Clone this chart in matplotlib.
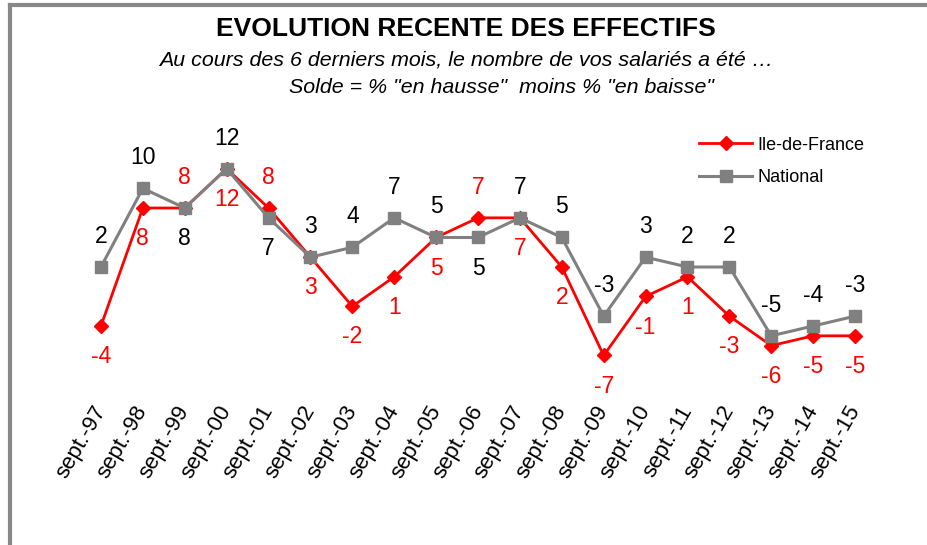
import matplotlib.pyplot as plt
from matplotlib.lines import Line2D

plt.rcParams['font.family'] = ['Liberation Sans', 'DejaVu Sans']

periods = ["sept.-97", "sept.-98", "sept.-99", "sept.-00", "sept.-01", "sept.-02",
           "sept.-03", "sept.-04", "sept.-05", "sept.-06", "sept.-07", "sept.-08",
           "sept.-09", "sept.-10", "sept.-11", "sept.-12", "sept.-13", "sept.-14",
           "sept.-15"]
idf = [-4, 8, 8, 12, 8, 3, -2, 1, 5, 7, 7, 2, -7, -1, 1, -3, -6, -5, -5]
national = [2, 10, 8, 12, 7, 3, 4, 7, 5, 5, 7, 5, -3, 3, 2, 2, -5, -4, -3]

# +1 = label above the point, -1 = below
idf_side = [-1, -1, 1, -1, 1, -1, -1, -1, -1, 1, -1, -1, -1, -1, -1, -1, -1, -1, -1]
nat_side = [1, 1, -1, 1, -1, 1, 1, 1, 1, -1, 1, 1, 1, 1, 1, 1, 1, 1, 1]

RED = "#ff0000"
GREY = "#808080"

fig = plt.figure(figsize=(9.27, 5.45), dpi=100)
ax = fig.add_axes([0.0863, 0.2936, 0.8587, 0.4330])
x = list(range(len(periods)))

ax.plot(x, idf, color=RED, lw=2, marker="D", ms=7, zorder=3)
ax.plot(x, national, color=GREY, lw=2.2, marker="s", ms=8, zorder=4)

for i in x:
    ax.annotate(str(idf[i]), (i, idf[i]), xytext=(0, 22 * idf_side[i]),
                textcoords="offset points", ha="center", va="center",
                color=RED, fontsize=16.5)
    ax.annotate(str(national[i]), (i, national[i]), xytext=(0, 22 * nat_side[i]),
                textcoords="offset points", ha="center", va="center",
                color="black", fontsize=16.5)

ax.set_xlim(-0.5, 18.5)
ax.set_ylim(-10, 14)
ax.set_xticks(x)
ax.set_xticklabels(periods, rotation=60, ha="right", va="center",
                   rotation_mode="anchor", fontsize=16)
ax.tick_params(axis="x", length=0, pad=16)
ax.set_yticks([])
for s in ax.spines.values():
    s.set_visible(False)

handles = [Line2D([], [], color=RED, lw=2, marker="D", ms=7),
           Line2D([], [], color=GREY, lw=2.2, marker="s", ms=8)]
fig.legend(handles, ["Ile-de-France", "National"], loc="upper left",
           bbox_to_anchor=(0.737, 0.779), frameon=False, fontsize=13,
           handlelength=2.9, handletextpad=0.3, labelspacing=0.85)

fig.text(0.503, 0.947, "EVOLUTION RECENTE DES EFFECTIFS", ha="center", va="center",
         fontsize=19, fontweight="bold")
fig.text(0.503, 0.890, "Au cours des 6 derniers mois, le nombre de vos salariés a été …",
         ha="center", va="center", fontsize=15.4, style="italic")
fig.text(0.541, 0.840, 'Solde = % "en hausse"  moins % "en baisse"',
         ha="center", va="center", fontsize=15.4, style="italic")

# grey frame along the top and left edges
fig.add_artist(Line2D([0.0108, 1.0], [0.9908, 0.9908], color="#888888", lw=3,
                      transform=fig.transFigure))
fig.add_artist(Line2D([0.0108, 0.0108], [0.0, 0.9908], color="#888888", lw=3,
                      transform=fig.transFigure))

fig.savefig("out.png", dpi=100)
